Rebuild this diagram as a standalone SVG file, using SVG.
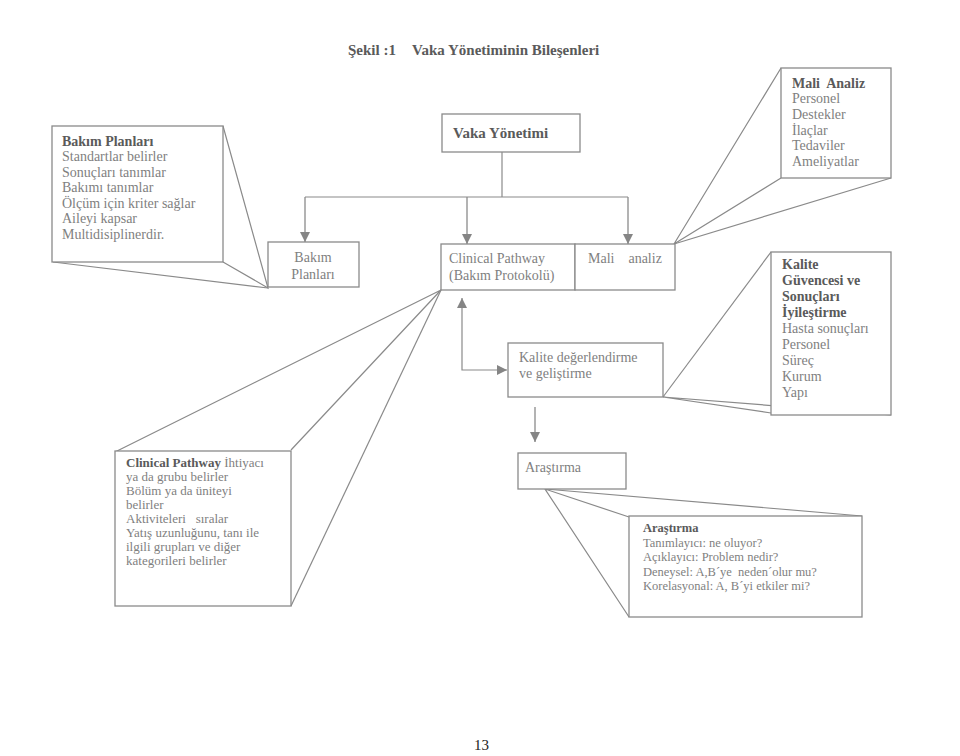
<svg xmlns="http://www.w3.org/2000/svg" width="960" height="756" viewBox="0 0 960 756">
<defs>
<marker id="arr" viewBox="0 0 10 10" refX="10" refY="5" markerWidth="10" markerHeight="10" markerUnits="userSpaceOnUse" orient="auto-start-reverse">
<path d="M0,0 L10,5 L0,10 z" fill="#858585"/>
</marker>
<style>
text{font-family:"Liberation Serif","Times New Roman",serif;fill:#7f7f7f;}
.b{font-weight:bold;fill:#5a5a5a;}
.t14{font-size:14px;}
.t13{font-size:13px;}
.t125{font-size:12.5px;}
.box{fill:#ffffff;stroke:#8a8a8a;stroke-width:1.3;}
.ln{fill:none;stroke:#8a8a8a;stroke-width:1.2;}
.ar{fill:none;stroke:#8a8a8a;stroke-width:1.3;marker-end:url(#arr);}
</style>
</defs>
<rect x="0" y="0" width="960" height="756" fill="#ffffff"/>

<g id="title">
<text x="348" y="55" class="b" style="font-size:15px">Şekil :1</text>
<text x="412" y="55" class="b" style="font-size:15px">Vaka Yönetiminin Bileşenleri</text>
</g>

<g id="connectors">
<line class="ln" x1="502" y1="152" x2="502" y2="197"/>
<line class="ln" x1="305" y1="197" x2="628" y2="197"/>
<line class="ar" x1="305" y1="197" x2="305" y2="242"/>
<line class="ar" x1="467" y1="197" x2="467" y2="244"/>
<line class="ar" x1="628" y1="197" x2="628" y2="244"/>
<path class="ln" d="M462,298 L462,370 L507,370" marker-start="url(#arr)" marker-end="url(#arr)"/>
<line class="ar" x1="535" y1="407" x2="535" y2="442"/>
<polyline class="ln" points="223,126 268,288 223,262"/>
<line class="ln" x1="53" y1="262" x2="268" y2="288"/>
<polyline class="ln" points="781,68 674,244 781,178"/>
<line class="ln" x1="891" y1="178" x2="674" y2="244"/>
<line class="ln" x1="771" y1="252" x2="663" y2="397"/>
<polyline class="ln" points="771,413 663,397 891,415"/>
<polyline class="ln" points="115,452 441,290 291,450"/>
<line class="ln" x1="441" y1="290" x2="291" y2="606"/>
<polyline class="ln" points="629,517 545,489 629,617"/>
<line class="ln" x1="545" y1="489" x2="862" y2="516"/>
</g>

<g id="bakim-planlari-note">
<rect class="box" x="52" y="126" width="171" height="136"/>
<text class="t14 b" x="62" y="146">Bakım Planları</text>
<text class="t14" x="62" y="161">Standartlar belirler</text>
<text class="t14" x="62" y="177">Sonuçları tanımlar</text>
<text class="t14" x="62" y="192">Bakımı tanımlar</text>
<text class="t14" x="62" y="208">Ölçüm için kriter sağlar</text>
<text class="t14" x="62" y="223">Aileyi kapsar</text>
<text class="t14" x="62" y="239">Multidisiplinerdir.</text>
</g>

<g id="vaka-yonetimi">
<rect class="box" x="442" y="114" width="138" height="38"/>
<text class="b" style="font-size:15px" x="453" y="138">Vaka Yönetimi</text>
</g>

<g id="bakim-planlari">
<rect class="box" x="268" y="242" width="91" height="45"/>
<text class="t14" x="313" y="262" text-anchor="middle">Bakım</text>
<text class="t14" x="313" y="279" text-anchor="middle">Planları</text>
</g>

<g id="clinical-pathway">
<rect class="box" x="441" y="244" width="134" height="46"/>
<text class="t14" x="449" y="263">Clinical Pathway</text>
<text class="t14" x="449" y="280">(Bakım Protokolü)</text>
</g>

<g id="mali-analiz">
<rect class="box" x="575" y="244" width="100" height="46"/>
<text class="t14" x="588" y="263" xml:space="preserve">Mali    analiz</text>
</g>

<g id="mali-analiz-note">
<rect class="box" x="781" y="68" width="110" height="110"/>
<text class="t14 b" x="792" y="88" xml:space="preserve">Mali  Analiz</text>
<text class="t14" x="792" y="103">Personel</text>
<text class="t14" x="792" y="119">Destekler</text>
<text class="t14" x="792" y="135">İlaçlar</text>
<text class="t14" x="792" y="150">Tedaviler</text>
<text class="t14" x="792" y="166">Ameliyatlar</text>
</g>

<g id="kalite-guvencesi-note">
<rect class="box" x="771" y="252" width="120" height="163"/>
<text class="t14 b" x="782" y="269">Kalite</text>
<text class="t14 b" x="782" y="285">Güvencesi ve</text>
<text class="t14 b" x="782" y="301">Sonuçları</text>
<text class="t14 b" x="782" y="317">İyileştirme</text>
<text class="t14" x="782" y="333">Hasta sonuçları</text>
<text class="t14" x="782" y="349">Personel</text>
<text class="t14" x="782" y="365">Süreç</text>
<text class="t14" x="782" y="381">Kurum</text>
<text class="t14" x="782" y="397">Yapı</text>
</g>

<g id="kalite-degerlendirme">
<rect class="box" x="508" y="343" width="155" height="54"/>
<text class="t14" x="519" y="362">Kalite değerlendirme</text>
<text class="t14" x="519" y="378">ve geliştirme</text>
</g>

<g id="arastirma">
<rect class="box" x="518" y="453" width="108" height="36"/>
<text class="t14" x="525" y="472">Araştırma</text>
</g>

<g id="arastirma-note">
<rect class="box" x="629" y="516" width="233" height="101"/>
<text class="t125 b" x="643" y="532">Araştırma</text>
<text class="t125" x="643" y="546.5">Tanımlayıcı: ne oluyor?</text>
<text class="t125" x="643" y="561">Açıklayıcı: Problem nedir?</text>
<text class="t125" x="643" y="575.5" xml:space="preserve">Deneysel: A,B´ye  neden´olur mu?</text>
<text class="t125" x="643" y="590">Korelasyonal: A, B´yi etkiler mi?</text>
</g>

<g id="clinical-pathway-note">
<rect class="box" x="115" y="451" width="176" height="155"/>
<text class="t13" x="126" y="467"><tspan class="b">Clinical Pathway</tspan> İhtiyacı</text>
<text class="t13" x="126" y="481">ya da grubu belirler</text>
<text class="t13" x="126" y="495">Bölüm ya da üniteyi</text>
<text class="t13" x="126" y="509">belirler</text>
<text class="t13" x="126" y="523" xml:space="preserve">Aktiviteleri   sıralar</text>
<text class="t13" x="126" y="537">Yatış uzunluğunu, tanı ile</text>
<text class="t13" x="126" y="551">ilgili grupları ve diğer</text>
<text class="t13" x="126" y="565">kategorileri belirler</text>
</g>

<g id="page-number">
<text x="474" y="750" style="font-size:15px;fill:#222222">13</text>
</g>
</svg>
